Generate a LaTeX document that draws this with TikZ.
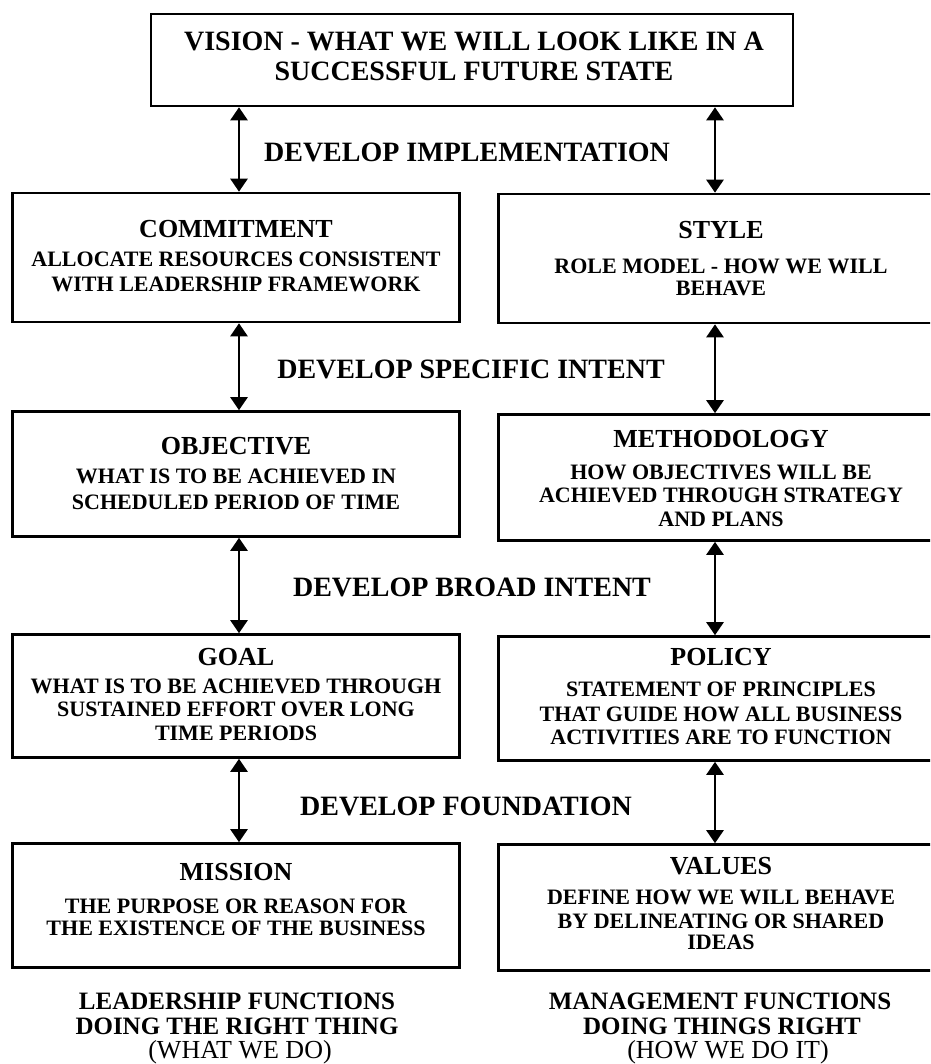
\documentclass[tikz,border=0pt]{standalone}
\usepackage{fontspec}
\setmainfont{Liberation Serif}
\usetikzlibrary{arrows.meta}
\begin{document}
\begin{tikzpicture}[x=1pt,y=-1pt,
  box/.style={draw, line width=2.6pt, inner sep=0pt},
  ttl/.style={anchor=base, inner sep=0pt, font=\bfseries\fontsize{26}{28}\selectfont},
  bdy/.style={anchor=base, inner sep=0pt, font=\bfseries\fontsize{22}{24}\selectfont},
  lbl/.style={anchor=base, inner sep=0pt, font=\bfseries\fontsize{28}{30}\selectfont},
  foot/.style={anchor=base, inner sep=0pt, font=\bfseries\fontsize{25}{27}\selectfont},
  dbl/.style={{Triangle[length=13pt,width=17pt]}-{Triangle[length=13pt,width=17pt]}, line width=2.5pt}
]
\useasboundingbox (0,0) rectangle (930,1064);
\clip (0,0) rectangle (930,1064);

% vision box
\node[box, minimum width=642pt, minimum height=92pt] (vision) at (472,60) {};
\node[lbl] (v1) at (474,50.3) {VISION - WHAT WE WILL LOOK LIKE IN A};
\node[lbl] (v2) at (474,80.3) {SUCCESSFUL FUTURE STATE};

% left column: leadership functions
\node[box, minimum width=447pt, minimum height=129pt] (com) at (236,257.5) {};
\node[box, minimum width=447pt, minimum height=125pt] (obj) at (236,474) {};
\node[box, minimum width=447pt, minimum height=123pt] (goal) at (236,696) {};
\node[box, minimum width=447pt, minimum height=124pt] (mis) at (236,905.5) {};

% right column: management functions
\node[box, minimum width=445pt, minimum height=129pt] (sty) at (721,258.5) {};
\node[box, minimum width=445pt, minimum height=126pt] (met) at (721,477.5) {};
\node[box, minimum width=445pt, minimum height=124pt] (pol) at (721,698.5) {};
\node[box, minimum width=445pt, minimum height=126pt] (val) at (721,907.5) {};

% box texts
\node[ttl] (comT) at (236,237.6) {COMMITMENT};
\node[bdy] (comA) at (236,266.3) {ALLOCATE RESOURCES CONSISTENT};
\node[bdy] (comB) at (236,291.3) {WITH LEADERSHIP FRAMEWORK};

\node[ttl] (styT) at (721,238.6) {STYLE};
\node[bdy] (styA) at (721,273.3) {ROLE MODEL - HOW WE WILL};
\node[bdy] (styB) at (721,295.3) {BEHAVE};

\node[ttl] (objT) at (236,454.6) {OBJECTIVE};
\node[bdy] (objA) at (236,483.3) {WHAT IS TO BE ACHIEVED IN};
\node[bdy] (objB) at (236,509.3) {SCHEDULED PERIOD OF TIME};

\node[ttl] (metT) at (721,447.6) {METHODOLOGY};
\node[bdy] (metA) at (721,479.3) {HOW OBJECTIVES WILL BE};
\node[bdy] (metB) at (721,502.3) {ACHIEVED THROUGH STRATEGY};
\node[bdy] (metC) at (721,526.3) {AND PLANS};

\node[ttl] (goalT) at (236,665.6) {GOAL};
\node[bdy] (goalA) at (236,693.3) {WHAT IS TO BE ACHIEVED THROUGH};
\node[bdy] (goalB) at (236,716.3) {SUSTAINED EFFORT OVER LONG};
\node[bdy] (goalC) at (236,740.3) {TIME PERIODS};

\node[ttl] (polT) at (721,665.6) {POLICY};
\node[bdy] (polA) at (721,696.3) {STATEMENT OF PRINCIPLES};
\node[bdy] (polB) at (721,721.3) {THAT GUIDE HOW ALL BUSINESS};
\node[bdy] (polC) at (721,744.3) {ACTIVITIES ARE TO FUNCTION};

\node[ttl] (misT) at (236,880.6) {MISSION};
\node[bdy] (misA) at (236,913.3) {THE PURPOSE OR REASON FOR};
\node[bdy] (misB) at (236,935.3) {THE EXISTENCE OF THE BUSINESS};

\node[ttl] (valT) at (721,874.6) {VALUES};
\node[bdy] (valA) at (721,904.3) {DEFINE HOW WE WILL BEHAVE};
\node[bdy] (valB) at (721,928.3) {BY DELINEATING OR SHARED};
\node[bdy] (valC) at (721,949.3) {IDEAS};

% stage labels between rows
\node[lbl] (dImp) at (467,161.3) {DEVELOP IMPLEMENTATION};
\node[lbl] (dSpe) at (471,378.3) {DEVELOP SPECIFIC INTENT};
\node[lbl] (dBro) at (472,596.3) {DEVELOP BROAD INTENT};
\node[lbl] (dFou) at (466,815.3) {DEVELOP FOUNDATION};

% column captions
\node[foot] (lf1) at (237,1009.3) {LEADERSHIP FUNCTIONS};
\node[foot] (lf2) at (237,1034.3) {DOING THE RIGHT THING};
\node[foot, font=\fontsize{26}{28}\selectfont] (lf3) at (240,1058.3) {(WHAT WE DO)};
\node[foot] (mf1) at (720,1009.3) {MANAGEMENT FUNCTIONS};
\node[foot] (mf2) at (722,1034.3) {DOING THINGS RIGHT};
\node[foot, font=\fontsize{26}{28}\selectfont] (mf3) at (728,1058.3) {(HOW WE DO IT)};

% two-way arrows
\coordinate (aL) at (239,0);
\coordinate (aR) at (715,0);
\draw[dbl] (aL |- vision.south) -- (aL |- com.north);
\draw[dbl] (aR |- vision.south) -- (aR |- sty.north);
\draw[dbl] (aL |- com.south) -- (aL |- obj.north);
\draw[dbl] (aR |- sty.south) -- (aR |- met.north);
\draw[dbl] (aL |- obj.south) -- (aL |- goal.north);
\draw[dbl] (aR |- met.south) -- (aR |- pol.north);
\draw[dbl] (aL |- goal.south) -- (aL |- mis.north);
\draw[dbl] (aR |- pol.south) -- (aR |- val.north);
\end{tikzpicture}
\end{document}
